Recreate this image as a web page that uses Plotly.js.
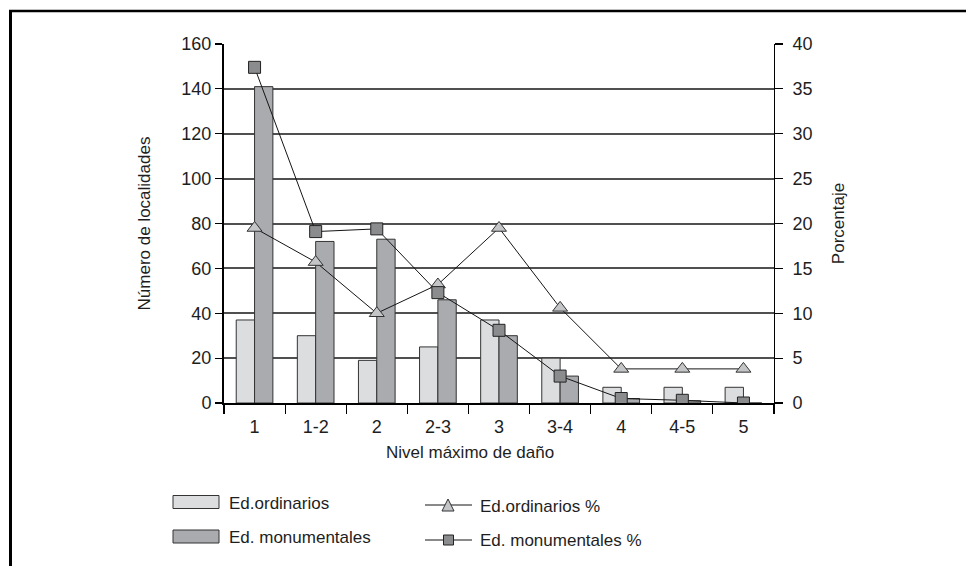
<!DOCTYPE html>
<html>
<head>
<meta charset="utf-8">
<script src="https://cdn.plot.ly/plotly-3.0.1.min.js"></script>
<style>
  html, body { margin: 0; padding: 0; background: #fff; }
  #chart { width: 966px; height: 566px; }
</style>
</head>
<body>
<div id="chart"></div>
<script>
// Damage level categories
const categories = ['1', '1-2', '2', '2-3', '3', '3-4', '4', '4-5', '5'];

// Number of localities per maximum damage level
const ordinarios = [37, 30, 19, 25, 37, 20, 7, 7, 7];
const monumentales = [141, 72, 73, 46, 30, 12, 2, 1, 0];

// Percentages (right axis)
const ordinariosPct = [19.5, 15.7, 10.0, 13.2, 19.5, 10.6, 3.8, 3.8, 3.8];
const monumentalesPct = [37.4, 19.1, 19.4, 12.3, 8.1, 3.0, 0.5, 0.3, 0];

// Series names
const names = ['Ed.ordinarios', 'Ed. monumentales', 'Ed.ordinarios %', 'Ed. monumentales %'];

// Styling
const FONT = 'Liberation Sans, Arial, Helvetica, sans-serif';
const TEXT = '#1e1e1e';
const LIGHT = '#dcdddf';
const DARK = '#a9abae';
const TRI = '#c3c5c7';
const SQR = '#8b8c8e';
const EDGE = '#333333';

// Plot frame in pixels, used to place the hand-drawn key
const L = 224, R = 774, T = 44, B = 403;
const fx = p => (p - L) / (R - L);
const fy = p => (B - p) / (B - T);

const traces = [
  {
    type: 'bar', name: names[0], x: categories, y: ordinarios,
    marker: { color: LIGHT, line: { color: EDGE, width: 1 } },
    showlegend: false, hoverinfo: 'x+y'
  },
  {
    type: 'bar', name: names[1], x: categories, y: monumentales,
    marker: { color: DARK, line: { color: EDGE, width: 1 } },
    showlegend: false, hoverinfo: 'x+y'
  },
  {
    type: 'scatter', mode: 'lines+markers', name: names[2],
    x: categories, y: ordinariosPct, yaxis: 'y2',
    line: { color: '#151515', width: 1 },
    marker: { symbol: 'triangle-up', size: 13, color: TRI, line: { color: EDGE, width: 1 } },
    showlegend: false
  },
  {
    type: 'scatter', mode: 'lines+markers', name: names[3],
    x: categories, y: monumentalesPct, yaxis: 'y2',
    line: { color: '#151515', width: 1 },
    marker: { symbol: 'square', size: 12, color: SQR, line: { color: '#222', width: 1 } },
    showlegend: false
  }
];

// Key: bar swatches, line samples with markers, and labels
const shapes = [
  // outer frame edges (top and left)
  { type: 'line', xref: 'paper', yref: 'paper', x0: fx(9), x1: fx(966), y0: fy(11), y1: fy(11),
    line: { color: '#000', width: 2.5 } },
  { type: 'line', xref: 'paper', yref: 'paper', x0: fx(10.5), x1: fx(10.5), y0: fy(10), y1: fy(566),
    line: { color: '#000', width: 3 } },
  // bar swatches
  { type: 'rect', xref: 'paper', yref: 'paper', x0: fx(173), x1: fx(219), y0: fy(495.5), y1: fy(508.5),
    fillcolor: LIGHT, line: { color: EDGE, width: 1 } },
  { type: 'rect', xref: 'paper', yref: 'paper', x0: fx(173), x1: fx(219), y0: fy(530), y1: fy(543),
    fillcolor: DARK, line: { color: EDGE, width: 1 } },
  // line samples
  { type: 'line', xref: 'paper', yref: 'paper', x0: fx(425), x1: fx(472), y0: fy(505), y1: fy(505),
    line: { color: '#151515', width: 1 } },
  { type: 'line', xref: 'paper', yref: 'paper', x0: fx(425), x1: fx(472), y0: fy(540), y1: fy(540),
    line: { color: '#151515', width: 1 } },
  // triangle marker sample
  { type: 'path', xref: 'paper', yref: 'paper',
    path: `M ${fx(442)},${fy(511)} L ${fx(454)},${fy(511)} L ${fx(448)},${fy(499)} Z`,
    fillcolor: TRI, line: { color: EDGE, width: 1 } },
  // square marker sample
  { type: 'rect', xref: 'paper', yref: 'paper', x0: fx(443.5), x1: fx(453.5), y0: fy(535), y1: fy(545),
    fillcolor: SQR, line: { color: '#222', width: 1 } }
];

const keyLabel = (text, x, y) => ({
  text, xref: 'paper', yref: 'paper', x: fx(x), y: fy(y),
  xanchor: 'left', yanchor: 'middle', showarrow: false,
  font: { family: FONT, size: 17, color: TEXT }
});

const annotations = [
  keyLabel(names[0], 227, 503),
  keyLabel(names[1], 227, 537),
  keyLabel(names[2], 478, 506),
  keyLabel(names[3], 478, 540),
  // x axis title
  { text: 'Nivel máximo de daño', xref: 'paper', yref: 'paper', x: fx(470), y: fy(452),
    xanchor: 'center', yanchor: 'middle', showarrow: false,
    font: { family: FONT, size: 17, color: TEXT } }
];

const tickFont = { family: FONT, size: 18, color: TEXT };

const layout = {
  width: 966, height: 566,
  margin: { l: L, r: 966 - R, t: T, b: 566 - B, pad: 0 },
  paper_bgcolor: '#fff', plot_bgcolor: '#fff',
  font: { family: FONT, size: 17, color: TEXT },
  barmode: 'group', bargap: 0.4, bargroupgap: 0,
  showlegend: false,
  xaxis: {
    type: 'category', range: [-0.5, 8.5],
    showline: true, linecolor: '#000', linewidth: 2,
    ticks: 'outside', tickson: 'boundaries', ticklen: 9, tickwidth: 1.2, tickcolor: '#000',
    ticklabelstandoff: 6,
    showgrid: false, zeroline: false,
    tickfont: tickFont
  },
  yaxis: {
    range: [0, 160], dtick: 20, tick0: 0,
    showline: true, linecolor: '#000', linewidth: 2,
    ticks: 'outside', ticklen: 7, tickwidth: 1.2, tickcolor: '#000',
    showgrid: true, gridcolor: '#505050', gridwidth: 2,
    zeroline: false,
    tickfont: tickFont,
    title: { text: 'Número de localidades', font: { family: FONT, size: 17, color: TEXT }, standoff: 26 }
  },
  yaxis2: {
    overlaying: 'y', side: 'right',
    range: [0, 40], dtick: 5, tick0: 0,
    showline: true, linecolor: '#000', linewidth: 1,
    ticks: 'outside', ticklen: 8, tickwidth: 1.2, tickcolor: '#000',
    ticklabelstandoff: 6,
    showgrid: false, zeroline: false,
    tickfont: tickFont,
    title: { text: 'Porcentaje', font: { family: FONT, size: 17, color: TEXT }, standoff: 20 }
  },
  shapes, annotations
};

Plotly.newPlot('chart', traces, layout, { displayModeBar: false, staticPlot: true });
</script>
</body>
</html>
